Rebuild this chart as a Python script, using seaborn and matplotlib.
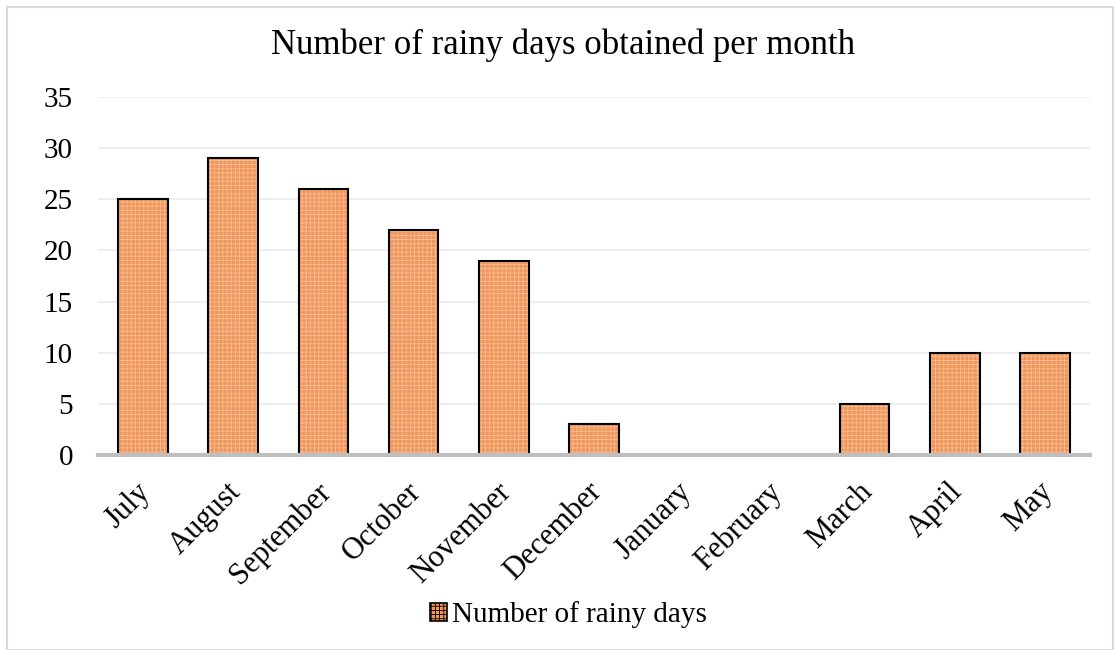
import matplotlib
matplotlib.use("Agg")
import matplotlib.pyplot as plt
from matplotlib.patches import Rectangle, Patch
from matplotlib.transforms import ScaledTranslation
import seaborn as sns
import pandas as pd

months = ["July", "August", "September", "October", "November", "December",
          "January", "February", "March", "April", "May"]
rainy_days = [25, 29, 26, 22, 19, 3, 0, 0, 5, 10, 10]
series_name = "Number of rainy days"
title = "Number of rainy days obtained per month"
y_ticks = [0, 5, 10, 15, 20, 25, 30, 35]

df = pd.DataFrame({"month": months, "days": rainy_days})

sns.set_theme(style="white")
plt.rcParams["font.family"] = ["Liberation Serif", "DejaVu Serif"]
plt.rcParams["text.color"] = "black"
plt.rcParams["hatch.linewidth"] = 0.6

fig = plt.figure(figsize=(11.14, 6.5), dpi=100)
ax = fig.add_axes([98 / 1114, 1 - 455 / 650, (1090 - 98) / 1114, (455 - 97) / 650])

bar_fill = "#F0965A"
hatch_col = "#F6BC92"

# patterned fill
sns.barplot(data=df, x="month", y="days", ax=ax, color=bar_fill, width=0.55,
            saturation=1, edgecolor=hatch_col, linewidth=0)
for p in ax.patches:
    p.set_hatch("++++")
    p.set_edgecolor(hatch_col)
    p.set_linewidth(0)

# black outlines on top
sns.barplot(data=df, x="month", y="days", ax=ax, width=0.55, fill=False,
            edgecolor="black", linewidth=1.5)

ax.set_ylim(0, 35)
ax.set_xlim(-0.5, len(months) - 0.5)
ax.set_yticks(y_ticks)
ax.yaxis.grid(True, color="#EBEBEB", linewidth=1.2)
ax.set_axisbelow(True)
for s in ["top", "right", "left"]:
    ax.spines[s].set_visible(False)
ax.spines["bottom"].set_color("#BFBFBF")
ax.spines["bottom"].set_linewidth(3)
ax.spines["bottom"].set_zorder(5)
ax.tick_params(axis="y", length=0, labelsize=21, colors="black", pad=18)
ax.tick_params(axis="x", length=0, labelsize=22, colors="black", pad=16)
shift = ScaledTranslation(-0.07, 0, fig.dpi_scale_trans)
for lbl in ax.get_xticklabels():
    lbl.set_rotation(45)
    lbl.set_ha("right")
    lbl.set_rotation_mode("anchor")
    lbl.set_transform(lbl.get_transform() + shift)
ax.set_xlabel("")
ax.set_ylabel("")

fig.text(563 / 1114, 1 - 45 / 650, title, ha="center", va="center",
         fontsize=25, color="black")

handle = Patch(facecolor=bar_fill, edgecolor="black", hatch="++++", linewidth=1.2)
fig.legend([handle], [series_name], loc="center", bbox_to_anchor=(568 / 1114, 1 - 615 / 650),
           frameon=False, fontsize=21, handlelength=0.6, handleheight=0.6,
           handletextpad=0.15, borderaxespad=0, labelcolor="black")

fig.patches.append(Rectangle((7 / 1114, 0), 1 - 8 / 1114, 1 - 7 / 650,
                             transform=fig.transFigure, fill=False,
                             edgecolor="#D9D9D9", linewidth=1.5))

fig.savefig("out.png", dpi=100)
